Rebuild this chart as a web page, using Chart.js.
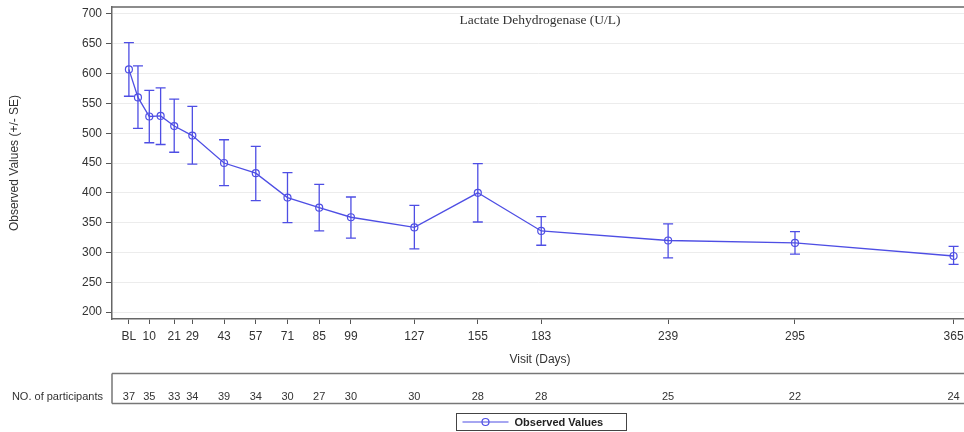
<!DOCTYPE html>
<html><head><meta charset="utf-8">
<script src="https://cdn.jsdelivr.net/npm/chart.js@4/dist/chart.umd.min.js"></script>
<style>html,body{margin:0;padding:0;background:#fff}#wrap{width:964px;height:432px;position:relative}</style>
</head><body><div id="wrap"><canvas id="c" width="964" height="432"></canvas></div>
<script>
// ---- data ----
const days   = [1, 5, 10, 15, 21, 29, 43, 57, 71, 85, 99, 127, 155, 183, 239, 295, 365];
const means  = [607, 560, 528, 529, 512, 496, 450, 433, 392, 375, 359, 342, 400, 336, 320, 316, 294];
const upper  = [652, 613, 572, 576, 557, 545, 489, 478, 434, 414, 393, 379, 449, 360, 348, 335, 310];
const lower  = [562, 508, 484, 481, 468, 448, 412, 387, 350, 336, 324, 306, 351, 312, 291, 297, 280];
const tickDays   = [1, 10, 21, 29, 43, 57, 71, 85, 99, 127, 155, 183, 239, 295, 365];
const tickLabels = ['BL', '10', '21', '29', '43', '57', '71', '85', '99', '127', '155', '183', '239', '295', '365'];
const participants = [37, 35, 33, 34, 39, 34, 30, 27, 30, 30, 28, 28, 25, 22, 24];
const yTicks = [200, 250, 300, 350, 400, 450, 500, 550, 600, 650, 700];
const chartTitle = 'Lactate Dehydrogenase (U/L)';
const yTitle = 'Observed Values (+/- SE)';
const xTitle = 'Visit (Days)';
const rowLabel = 'NO. of participants';
const seriesName = 'Observed Values';

const BLUE = 'rgb(78,78,228)';
const SANS = '"Liberation Sans", Arial, sans-serif';

const extras = {
  id: 'extras',
  afterDatasetsDraw(chart) {
    const {ctx, scales: {x, y}} = chart;
    ctx.save();
    ctx.strokeStyle = BLUE;
    ctx.lineWidth = 1.3;
    days.forEach((d, i) => {
      const px = x.getPixelForValue(d);
      const yt = y.getPixelForValue(upper[i]);
      const yb = y.getPixelForValue(lower[i]);
      ctx.beginPath();
      ctx.moveTo(px, yt); ctx.lineTo(px, yb);
      ctx.moveTo(px - 5, yt); ctx.lineTo(px + 5, yt);
      ctx.moveTo(px - 5, yb); ctx.lineTo(px + 5, yb);
      ctx.stroke();
    });
    ctx.restore();
  },
  afterDraw(chart) {
    const {ctx, chartArea: a, scales: {x}} = chart;
    ctx.save();
    // top border
    ctx.strokeStyle = '#666'; ctx.lineWidth = 1.5;
    ctx.beginPath(); ctx.moveTo(a.left, a.top); ctx.lineTo(a.right, a.top); ctx.stroke();
    // inner title
    ctx.fillStyle = '#333';
    ctx.font = '13.5px "Liberation Serif", "Times New Roman", serif';
    ctx.textAlign = 'center'; ctx.textBaseline = 'middle';
    ctx.fillText(chartTitle, (a.left + a.right) / 2 + 2, 20);
    // y title
    ctx.font = '12px ' + SANS;
    ctx.save();
    ctx.translate(15, (a.top + a.bottom) / 2);
    ctx.rotate(-Math.PI / 2);
    ctx.fillText(yTitle, 0, 0);
    ctx.restore();
    // x title
    ctx.fillText(xTitle, (a.left + a.right) / 2 + 2, 360);
    // participants box
    ctx.strokeStyle = '#777'; ctx.lineWidth = 1.5;
    ctx.beginPath();
    ctx.moveTo(a.left, 373.5); ctx.lineTo(964, 373.5);
    ctx.moveTo(a.left, 403.5); ctx.lineTo(964, 403.5);
    ctx.moveTo(a.left, 373.5); ctx.lineTo(a.left, 403.5);
    ctx.stroke();
    ctx.font = '11px ' + SANS;
    ctx.textAlign = 'right';
    ctx.fillText(rowLabel, 103, 397);
    ctx.textAlign = 'center';
    tickDays.forEach((d, i) => ctx.fillText(String(participants[i]), x.getPixelForValue(d), 397));
    // legend
    const lx = 456.5, ly = 413.5, lw = 170, lh = 17;
    ctx.strokeStyle = '#444'; ctx.lineWidth = 1;
    ctx.strokeRect(lx, ly, lw, lh);
    const cy = ly + lh / 2;
    ctx.strokeStyle = BLUE; ctx.lineWidth = 1.2;
    ctx.beginPath(); ctx.moveTo(lx + 6, cy); ctx.lineTo(lx + 52, cy); ctx.stroke();
    ctx.beginPath(); ctx.arc(lx + 29, cy, 3.5, 0, Math.PI * 2); ctx.stroke();
    ctx.fillStyle = '#222';
    ctx.font = 'bold 11px ' + SANS;
    ctx.textAlign = 'left';
    ctx.fillText(seriesName, lx + 58, cy + 0.5);
    ctx.restore();
  }
};

new Chart(document.getElementById('c'), {
  type: 'line',
  data: {
    datasets: [{
      label: seriesName,
      data: days.map((d, i) => ({x: d, y: means[i]})),
      borderColor: BLUE,
      borderWidth: 1.3,
      pointStyle: 'circle',
      pointRadius: 3.5,
      pointBorderWidth: 1.2,
      pointBorderColor: BLUE,
      pointBackgroundColor: 'rgba(0,0,0,0)',
      tension: 0,
      clip: false
    }]
  },
  options: {
    responsive: false,
    animation: false,
    devicePixelRatio: 1,
    layout: {autoPadding: false, padding: {top: 7, right: 0, bottom: 0, left: 0}},
    plugins: {legend: {display: false}, tooltip: {enabled: false}},
    scales: {
      x: {
        type: 'linear',
        min: -6.46, max: 369.6,
        afterBuildTicks: s => { s.ticks = tickDays.map(v => ({value: v})); },
        afterFit: s => { s.height = 113; s.paddingLeft = 0; s.paddingRight = 0; },
        ticks: {
          autoSkip: false, maxRotation: 0, padding: 5,
          color: '#333', font: {family: SANS, size: 12},
          callback: v => tickLabels[tickDays.indexOf(v)]
        },
        grid: {drawOnChartArea: false, drawTicks: true, tickLength: 5, tickColor: '#555', tickWidth: 1},
        border: {display: true, color: '#666', width: 1.5}
      },
      y: {
        type: 'linear',
        min: 188.3, max: 711.7,
        afterBuildTicks: s => { s.ticks = yTicks.map(v => ({value: v})); },
        afterFit: s => { s.width = 112; s.paddingTop = 0; s.paddingBottom = 0; },
        ticks: {padding: 4, color: '#333', font: {family: SANS, size: 12}},
        grid: {color: '#ececec', lineWidth: 1, drawTicks: true, tickLength: 6, tickColor: '#555'},
        border: {display: true, color: '#666', width: 1.5}
      }
    }
  },
  plugins: [extras]
});
</script>
</body></html>
